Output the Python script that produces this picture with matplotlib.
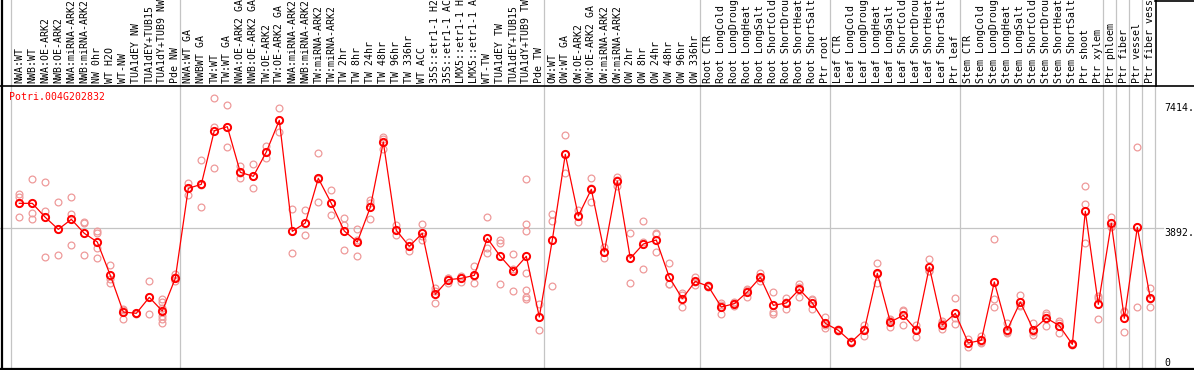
import matplotlib
matplotlib.use("Agg")
import matplotlib.pyplot as plt
from matplotlib.lines import Line2D
from matplotlib.transforms import blended_transform_factory

labels = [
    "NWA:WT", "NWB:WT", "NWA:OE-ARK2", "NWB:OE-ARK2", "NWA:miRNA-ARK2", "NWB:miRNA-ARK2",
    "NW 0hr", "WT H2O", "WT-NW", "TUA1dEY NW", "TUA1dEY+TUB15", "TUA1dY+TUB9 NW", "Pde NW",
    "NWA:WT GA", "NWBWT GA", "TW:WT", "TW:WT GA", "NWA:OE-ARK2 GA", "NWB:OE-ARK2 GA",
    "TW:OE-ARK2", "TW:OE-ARK2 GA", "NWA:miRNA-ARK2", "NWB:miRNA-ARK2", "TW:miRNA-ARK2",
    "TW:miRNA-ARK2", "TW 2hr", "TW 8hr", "TW 24hr", "TW 48hr", "TW 96hr", "TW 336hr",
    "WT ACC", "35S::etr1-1 H2", "35S::etr1-1 AC", "LMX5::etr1-1 H", "LMX5::etr1-1 A",
    "WT-TW", "TUA1dEY TW", "TUA1dEY+TUB15", "TUA1dY+TUB9 TW", "Pde TW",
    "OW:WT", "OW:WT GA", "OW:OE-ARK2", "OW:OE-ARK2 GA", "OW:miRNA-ARK2", "OW:miRNA-ARK2",
    "OW 2hr", "OW 8hr", "OW 24hr", "OW 48hr", "OW 96hr", "OW 336hr",
    "Root CTR", "Root LongCold", "Root LongDroug", "Root LongHeat", "Root LongSalt",
    "Root ShortCold", "Root ShortDrou", "Root ShortHeat", "Root ShortSalt", "Ptr root",
    "Leaf CTR", "Leaf LongCold", "Leaf LongDroug", "Leaf LongHeat", "Leaf LongSalt",
    "Leaf ShortCold", "Leaf ShortDrou", "Leaf ShortHeat", "Leaf ShortSalt", "Ptr leaf",
    "Stem CTR", "Stem LongCold", "Stem LongDroug", "Stem LongHeat", "Stem LongSalt",
    "Stem ShortCold", "Stem ShortDrou", "Stem ShortHeat", "Stem ShortSalt", "Ptr shoot",
    "Ptr xylem", "Ptr phloem", "Ptr fiber", "Ptr vessel", "Ptr fiber vess",
]

mean_values = [
    4595, 4595, 4201, 3862, 4144, 3750, 3506, 2566, 1533, 1496, 1946, 1561, 2482,
    5018, 5130, 6642, 6755, 5468, 5356, 6041, 6934, 3806, 4041, 5299, 4595, 3815,
    3506, 4482, 6323, 3834, 3383, 3750, 2031, 2444, 2482, 2566, 3609, 3102, 2688,
    3102, 1392, 3562, 5976, 4238, 4990, 3224, 5224, 3045, 3449, 3562, 2510, 1909,
    2397, 2256, 1674, 1768, 2097, 2510, 1721, 1787, 2172, 1787, 1214, 1017, 688,
    1026, 2623, 1252, 1439, 1026, 2801, 1167, 1496, 660, 735, 2379, 1035, 1815,
    1035, 1364, 1148, 622, 4370, 1749, 4032, 1355, 3919, 1918,
]

rep_values = [
    [4867, 4783, 4210], [5271, 4313, 4163], [5187, 4379, 3073], [4623, 3862, 3130],
    [4773, 4304, 3412], [4069, 4031, 3130], [3815, 3768, 3346, 3045], [2848, 2472, 2360],
    [1627, 1590, 1345], [1514, 1496, 1477], [2407, 1946, 1468],
    [1909, 1815, 1655, 1420, 1327, 1214], [2594, 2529, 2407],
    [5177, 5036, 4830], [5807, 5112, 4492], [7553, 6755, 5581], [7356, 6755, 6173],
    [5647, 5440, 5318], [5694, 5356, 5018], [6210, 6041, 5872], [7272, 6934, 6605],
    [4426, 3806, 3186], [4398, 4041, 3693], [6004, 5271, 4623], [4961, 4595, 4257],
    [4172, 3975, 3280], [3862, 3553, 3102], [4689, 4614, 4144], [6473, 6398, 6116],
    [3975, 3834, 3693], [3515, 3383, 3261], [4013, 3675, 3562], [2200, 2125, 1777],
    [2491, 2491, 2341], [2548, 2501, 2388], [2829, 2548, 2341], [4210, 3346, 3205],
    [3562, 3487, 2313], [3167, 2754, 2125],
    [5271, 4003, 3806, 2641, 2153, 1965, 1890], [1749, 1392, 1017],
    [4285, 4097, 2266], [6511, 5976, 5459], [4407, 4238, 4078], [5299, 5027, 4642],
    [3365, 3233, 3064], [5346, 5243, 5083], [3750, 3045, 2341], [4097, 3506, 2745],
    [3750, 3722, 3214], [2905, 2313, 2313], [2059, 2003, 1665], [2529, 2379, 2285],
    [2285, 2256, 2228], [1796, 1740, 1486], [1815, 1787, 1702], [2172, 2153, 1965],
    [2641, 2482, 2407], [2097, 1533, 1477], [1918, 1815, 1627], [2322, 2247, 1946],
    [1890, 1862, 1608], [1392, 1157, 1092], [1045, 1017, 988], [716, 688, 660],
    [1176, 1045, 857], [2905, 2594, 2360], [1327, 1308, 1120], [1590, 1561, 1167],
    [1176, 1064, 838], [3017, 2688, 2688], [1280, 1223, 1045], [1918, 1374, 1195],
    [763, 660, 557], [857, 697, 650], [3581, 1890, 1674], [1214, 960, 932],
    [2012, 1730, 1702], [1233, 979, 895], [1514, 1439, 1139], [1280, 1233, 932],
    [650, 622, 594], [5083, 4567, 3468], [1984, 1937, 1327], [4210, 3956, 3928],
    [1561, 1543, 960], [6173, 3919, 1665], [2209, 1890, 1665],
]

group_starts = [0, 13, 41, 53, 63, 73, 84, 85, 86, 87, 88]
gene_name = "Potri.004G202832"
ytick_values = [7414, 3892, 0]
ytick_texts = ["7414.", "3892.", "0"]

W, H = 1194, 370
MONO = "DejaVu Sans Mono"
GREY = "#c4c4c4"
RED = "#ff0000"
PINK = "#ee9a9a"


def fy(p):
    return 1 - p / H


fig = plt.figure(figsize=(W / 100, H / 100), dpi=100)
ax = fig.add_axes([0, 1 / H, 1, 283 / H])
ax.set_xlim(-1.485, 90.36)
ax.set_ylim(-73, 7901)
ax.axis("off")

# grid lines
ax.axhline(3892, xmin=0, xmax=1163 / W, color=GREY, lw=0.9, zorder=1)
tx = blended_transform_factory(ax.transData, fig.transFigure)
for g in group_starts:
    gx = g - 8 / 13
    ax.axvline(gx, color=GREY, lw=0.9, zorder=1)
    if g != 88:
        fig.add_artist(Line2D([gx, gx], [fy(85), 1], transform=tx, color=GREY, lw=0.9))

# black frame lines
fig.add_artist(Line2D([1.5 / W, 1.5 / W], [0, 1], color="black", lw=1.6))
fig.add_artist(Line2D([0, 1], [fy(85.5), fy(85.5)], color="black", lw=1.2))
fig.add_artist(Line2D([0, 1], [fy(369), fy(369)], color="black", lw=1.6))
fig.add_artist(Line2D([1155.5 / W, 1155.5 / W], [fy(85.5), 1], color="black", lw=1.2))
fig.add_artist(Line2D([1155 / W, 1], [fy(0.6), fy(0.6)], color="black", lw=1.2))

# replicate points
for i, reps in enumerate(rep_values):
    ax.plot([i] * len(reps), reps, linestyle="none", marker="o", ms=4.9,
            mfc="none", mec=PINK, mew=0.9, zorder=2)

# mean line
xs = list(range(len(mean_values)))
ax.plot(xs, mean_values, color=RED, lw=0.9, zorder=3)
ax.plot(xs, mean_values, linestyle="none", marker="o", ms=5.2, mfc="none",
        mec=RED, mew=1.4, zorder=4)

# category labels
for i, lab in enumerate(labels):
    fig.text(i, fy(83), lab, transform=tx, rotation=90, ha="center", va="bottom",
             family=MONO, fontsize=7.1, color="black")

# gene title
fig.text(9.3 / W, fy(92.5), gene_name, color=RED, family=MONO, fontsize=7.1,
         ha="left", va="top")

# y axis value labels
ty = blended_transform_factory(fig.transFigure, ax.transData)
for v, t in zip(ytick_values, ytick_texts):
    va = "baseline" if v == 0 else "top"
    fig.text(1164 / W, v, t, transform=ty, family=MONO, fontsize=7.1, ha="left", va=va)

fig.savefig("out.png", dpi=100)
